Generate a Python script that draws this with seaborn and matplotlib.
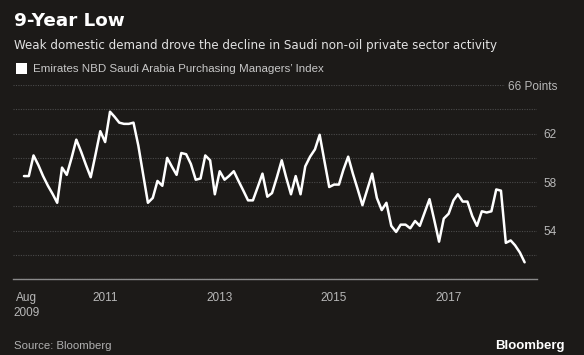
import seaborn as sns
import numpy as np
import pandas as pd
import matplotlib.pyplot as plt
from matplotlib.patches import Rectangle

# Emirates NBD Saudi Arabia PMI, monthly from Aug 2009 to May 2018
pmi = [
    58.5, 58.5, 60.2, 59.4, 58.5, 57.7, 57.0, 56.3, 59.2, 58.6,
    60.0, 61.5, 60.5, 59.4, 58.4, 60.3, 62.2, 61.3, 63.8, 63.4,
    62.9, 62.8, 62.8, 62.9, 61.0, 58.6, 56.3, 56.7, 58.1, 57.7,
    60.0, 59.3, 58.6, 60.4, 60.3, 59.5, 58.2, 58.3, 60.2, 59.8,
    57.0, 58.9, 58.2, 58.5, 58.9, 58.1, 57.3, 56.5, 56.5, 57.6,
    58.7, 56.8, 57.1, 58.4, 59.8, 58.4, 57.0, 58.5, 57.0, 59.3,
    60.1, 60.7, 61.9, 59.7, 57.6, 57.8, 57.8, 59.0, 60.1, 58.7,
    57.4, 56.1, 57.4, 58.7, 56.7, 55.7, 56.3, 54.4, 53.9, 54.5,
    54.5, 54.2, 54.8, 54.4, 55.5, 56.6, 54.9, 53.1, 55.0, 55.4,
    56.5, 57.0, 56.4, 56.4, 55.2, 54.4, 55.6, 55.5, 55.6, 57.4,
    57.3, 53.0, 53.2, 52.8, 52.2, 51.4,
]
first_month = "2009-08-01"

tick_dates = ["2009-08-20", "2011-01-01", "2013-01-01", "2015-01-01", "2017-01-01"]
tick_labels = ["Aug\n2009", "2011", "2013", "2015", "2017"]
grid_levels = [50, 52, 54, 56, 58, 60, 62, 64, 66]
label_levels = {54: "54", 58: "58", 62: "62", 66: "66 Points"}

title = "9-Year Low"
subtitle = "Weak domestic demand drove the decline in Saudi non-oil private sector activity"
legend_label = "Emirates NBD Saudi Arabia Purchasing Managers\u2019 Index"

df = pd.DataFrame({
    "month": pd.date_range(first_month, periods=len(pmi), freq="MS"),
    "pmi": pmi,
})

bg = "#1c1a18"
sns.set_style("dark", {"axes.facecolor": bg, "figure.facecolor": bg})
plt.rcParams["font.family"] = ["Liberation Sans", "DejaVu Sans"]

W, H = 584, 355
fig = plt.figure(figsize=(W / 100, H / 100), dpi=100, facecolor=bg)
ax = fig.add_axes([13 / W, 1 - 279.3 / H, 524 / W, 194.3 / H])
ax.set_facecolor(bg)

sns.lineplot(data=df, x="month", y="pmi", color="white", lw=1.8, ax=ax, zorder=3)

ax.set_ylim(50, 66)
ax.set_xlim(pd.Timestamp("2009-05-23"), pd.Timestamp("2018-07-19"))
ax.set_xlabel("")
ax.set_ylabel("")

# y axis: dotted grid every 2 points, labels on the right
ax.set_yticks(grid_levels)
ax.set_yticklabels([label_levels.get(v, "") for v in grid_levels])
ax.yaxis.tick_right()
ax.tick_params(axis="y", length=0, pad=14.4, labelcolor="#b8b8b8", labelsize=8.5)
for t in ax.get_yticklabels():
    t.set_horizontalalignment("right")
    if t.get_text() == "66 Points":
        t.set_bbox(dict(facecolor=bg, edgecolor="none", pad=2))
ax.grid(axis="y", color="#4a4a4a", lw=0.8, ls=(0, (1, 1.2)))
ax.grid(axis="x", visible=False)

# x axis
ax.set_xticks(pd.to_datetime(tick_dates))
ax.set_xticklabels(tick_labels)
ax.tick_params(axis="x", length=4, width=0.8, color="#8a8a8a", direction="out",
               pad=5, labelcolor="#b8b8b8", labelsize=8.5)
for t in ax.get_xticklabels():
    t.set_linespacing(1.3)

for side in ["left", "top", "right"]:
    ax.spines[side].set_visible(False)
ax.spines["bottom"].set_color("#8a8a8a")
ax.spines["bottom"].set_linewidth(1.0)

# header
fig.text(14 / W, 1 - 25.5 / H, title, fontsize=13.2, fontweight="bold",
         color="white", family="DejaVu Sans", va="baseline")
fig.text(14 / W, 1 - 48.7 / H, subtitle, fontsize=8.6, color="#e2e2e2",
         family="DejaVu Sans", va="baseline")
fig.patches.append(Rectangle((15.7 / W, 1 - 74 / H), 11.3 / W, 11 / H,
                             transform=fig.transFigure, facecolor="white",
                             edgecolor="none"))
fig.text(33 / W, 1 - 72.3 / H, legend_label, fontsize=8.25, color="#c8c8c8", va="baseline")

# footer
fig.text(14 / W, 1 - 349 / H, "Source: Bloomberg", fontsize=8.2, color="#b0b0b0", va="baseline")
fig.text(565 / W, 1 - 349 / H, "Bloomberg", fontsize=9.5, fontweight="bold",
         color="white", ha="right", va="baseline")

fig.savefig("out.png", dpi=100, facecolor=bg)
